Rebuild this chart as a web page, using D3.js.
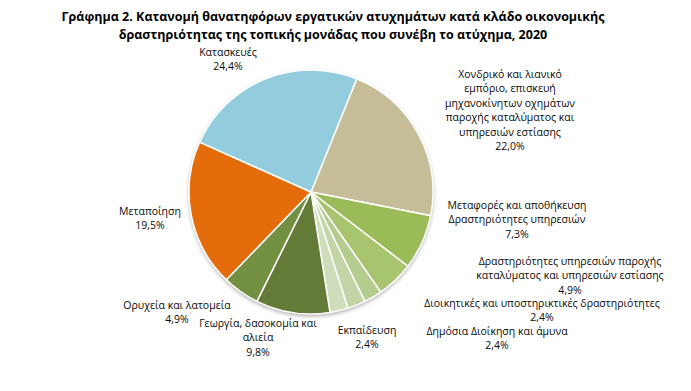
<!DOCTYPE html>
<html><head><meta charset="utf-8">
<script src="https://cdn.jsdelivr.net/npm/d3@7"></script>
<style>body{margin:0;background:#fff}svg{display:block}</style>
</head><body>
<svg id="c" width="691" height="391"></svg>
<script>
const categories = [
  "Χονδρικό και λιανικό εμπόριο, επισκευή μηχανοκίνητων οχημάτων παροχής καταλύματος και υπηρεσιών εστίασης",
  "Μεταφορές και αποθήκευση Δραστηριότητες υπηρεσιών",
  "Δραστηριότητες υπηρεσιών παροχής καταλύματος και υπηρεσιών εστίασης",
  "Διοικητικές και υποστηρικτικές δραστηριότητες",
  "Δημόσια Διοίκηση και άμυνα",
  "Εκπαίδευση",
  "Γεωργία, δασοκομία και αλιεία",
  "Ορυχεία και λατομεία",
  "Μεταποίηση",
  "Κατασκευές"
];
const values = [22.0, 7.3, 4.9, 2.4, 2.4, 2.4, 9.8, 4.9, 19.5, 24.4];
const labelLines = [
  ["Χονδρικό και λιανικό","εμπόριο, επισκευή","μηχανοκίνητων οχημάτων","παροχής καταλύματος και","υπηρεσιών εστίασης"],
  ["Μεταφορές και αποθήκευση","Δραστηριότητες υπηρεσιών"],
  ["Δραστηριότητες υπηρεσιών παροχής","καταλύματος και υπηρεσιών εστίασης"],
  ["Διοικητικές και υποστηρικτικές δραστηριότητες"],
  ["Δημόσια Διοίκηση και άμυνα"],
  ["Εκπαίδευση"],
  ["Γεωργία, δασοκομία και","αλιεία"],
  ["Ορυχεία και λατομεία"],
  ["Μεταποίηση"],
  ["Κατασκευές"]
];
const titleLines = [
  "Γράφημα 2. Κατανομή θανατηφόρων εργατικών ατυχημάτων  κατά κλάδο οικονομικής",
  "δραστηριότητας της τοπικής μονάδας που συνέβη το ατύχημα, 2020"
];

// layout (label anchor positions: centre x, first-line baseline y)
const colors = ["#C4BD97","#9BBB59","#A8C46E","#B5CC8F","#C3D5A6","#CEDDBA","#647A37","#738F41","#E46C0A","#93CDDD"];
const labelPos = [[510,78],[517,209],[570,265],[542,307],[497,335],[367,334],[258,327],[177,309],[150,215],[228,56]];

const svg = d3.select("#c");
const cx = 311, cy = 192, r = 122;
const fmt = v => d3.format(".1f")(v).replace(".", ",") + "%";

const defs = svg.append("defs");
const f = defs.append("filter").attr("id","sh").attr("x","-20%").attr("y","-20%").attr("width","140%").attr("height","140%");
f.append("feDropShadow").attr("dx",0).attr("dy",2).attr("stdDeviation",2).attr("flood-color","#000").attr("flood-opacity",0.35);

const pie = d3.pie().sort(null).value(d => d).startAngle(22*Math.PI/180).endAngle(22*Math.PI/180 + 2*Math.PI);
const arc = d3.arc().innerRadius(0).outerRadius(r);
const g = svg.append("g").attr("transform", `translate(${cx},${cy})`);
g.append("circle").attr("r", r).attr("fill","#fff").attr("filter","url(#sh)");
g.selectAll("path").data(pie(values)).join("path")
  .attr("d", arc).attr("fill", (d,i) => colors[i])
  .attr("stroke","#fff").attr("stroke-width",1.5).attr("stroke-linejoin","round");

const font = "Open Sans, Noto Sans, sans-serif";
const lh = 14.4;
values.forEach((v,i) => {
  const [x,y] = labelPos[i];
  const t = svg.append("text").attr("text-anchor","middle").attr("font-family",font)
    .attr("font-size",10.5).attr("fill","#0a0a0a");
  labelLines[i].concat([fmt(v)]).forEach((s,k) =>
    t.append("tspan").attr("x",x).attr("y",y + k*lh).text(s));
});

titleLines.forEach((s,k) => {
  svg.append("text").attr("text-anchor","middle").attr("font-family",font)
    .attr("font-weight","bold").attr("font-size",12.5).attr("fill","#000")
    .attr("x",333).attr("y",21 + k*18).text(s);
});
</script>
</body></html>
